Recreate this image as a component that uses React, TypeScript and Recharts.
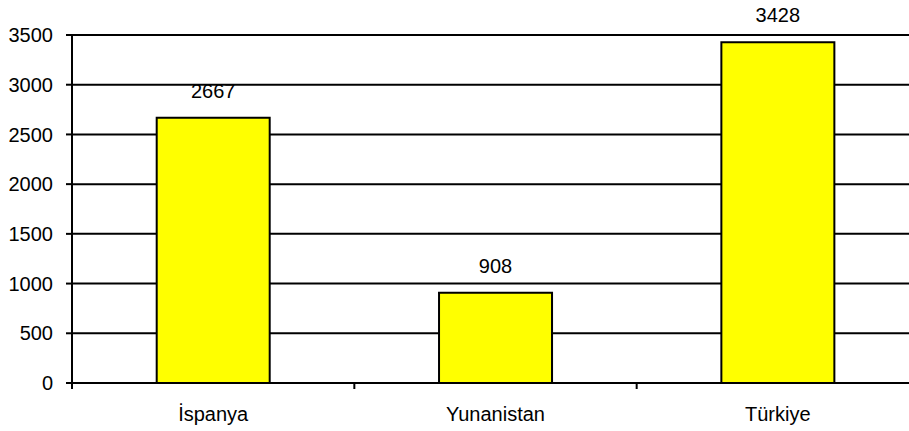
import { BarChart, Bar, XAxis, YAxis, CartesianGrid, LabelList } from "recharts";

const countries = ["İspanya", "Yunanistan", "Türkiye"];
const visitors = [2667, 908, 3428];
const yTicks = [0, 500, 1000, 1500, 2000, 2500, 3000, 3500];

const data = countries.map((name, i) => ({ name, value: visitors[i] }));

const fontFamily = "'Liberation Sans', Arial, sans-serif";
const font = { fontFamily, fontSize: 20, fill: "#000" };

// category label centred in the band, tick mark on the band's left edge (Excel style)
function CategoryTick(props: any) {
  const { x, y, payload } = props;
  const half = payload.offset || 0;
  return (
    <g>
      <line x1={x - half} x2={x - half} y1={y} y2={y + 6} stroke="#000" strokeWidth={2} />
      <text x={x} y={y + 24} dy="0.71em" textAnchor="middle" fontFamily={fontFamily} fontSize={20} fill="#000">
        {payload.value}
      </text>
    </g>
  );
}

export default function App() {
  return (
    <div
      style={{
        position: "fixed",
        left: 0,
        top: 0,
        width: 909,
        height: 431,
        overflow: "hidden",
        background: "#fff",
      }}
    >
      <BarChart
        width={919}
        height={431}
        data={data}
        margin={{ top: 35, right: 0, bottom: 0, left: 0 }}
        barCategoryGap="30%"
      >
        <CartesianGrid vertical={false} stroke="#000" strokeWidth={2} />
        <XAxis
          dataKey="name"
          height={48}
          axisLine={{ stroke: "#000", strokeWidth: 2 }}
          tickLine={false}
          tickSize={0}
          tickMargin={0}
          tick={<CategoryTick />}
          interval={0}
        />
        <YAxis
          width={72}
          domain={[0, 3500]}
          ticks={yTicks}
          interval={0}
          tickSize={6}
          tickMargin={13}
          tick={font}
          axisLine={{ stroke: "#000", strokeWidth: 2 }}
          tickLine={{ stroke: "#000", strokeWidth: 2 }}
        />
        <Bar dataKey="value" fill="#ffff00" stroke="#000" strokeWidth={2} isAnimationActive={false}>
          <LabelList dataKey="value" position="top" offset={20} style={font} />
        </Bar>
      </BarChart>
    </div>
  );
}
